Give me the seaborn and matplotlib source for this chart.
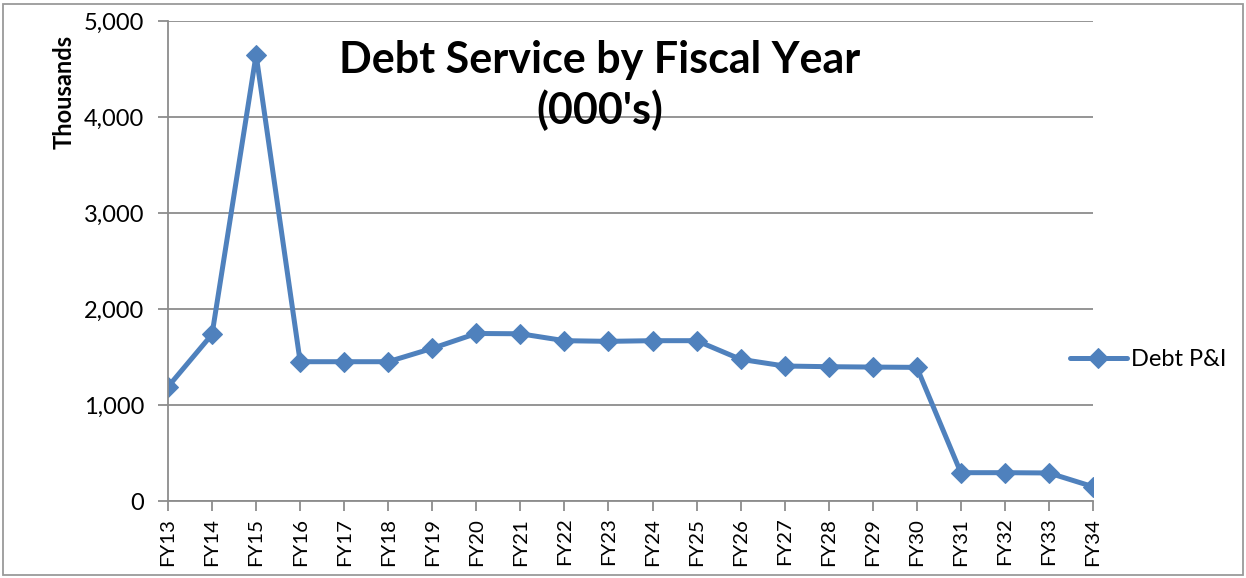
import matplotlib
matplotlib.use("Agg")
import matplotlib.pyplot as plt
import seaborn as sns
import pandas as pd
from matplotlib.patches import Rectangle
from matplotlib.ticker import FuncFormatter, MultipleLocator

years = ["FY13", "FY14", "FY15", "FY16", "FY17", "FY18", "FY19", "FY20", "FY21", "FY22", "FY23",
         "FY24", "FY25", "FY26", "FY27", "FY28", "FY29", "FY30", "FY31", "FY32", "FY33", "FY34"]
debt_pi = [1190, 1736, 4648, 1451, 1451, 1451, 1590, 1745, 1742, 1670, 1663,
           1670, 1670, 1476, 1406, 1399, 1395, 1392, 295, 295, 292, 149]

df = pd.DataFrame({"year": years, "Debt P&I": debt_pi})

sns.set_theme(style="white")
plt.rcParams["font.family"] = ["Lato", "DejaVu Sans"]
plt.rcParams["text.color"] = "black"

blue = "#4F81BD"
grid = "#8C8C8C"

fig = plt.figure(figsize=(12.46, 5.78), dpi=100)
ax = fig.add_axes([168/1246, 1-501/578, (1093-168)/1246, (501-21)/578])

sns.lineplot(data=df, x="year", y="Debt P&I", ax=ax, color=blue, linewidth=3.6,
             marker="D", markersize=10, markeredgecolor=blue, label="Debt P&I",
             sort=False)

ax.set_xlim(0, len(years) - 1)
ax.set_ylim(0, 5000)
ax.yaxis.set_major_locator(MultipleLocator(1000))
ax.yaxis.set_major_formatter(FuncFormatter(lambda v, p: f"{int(v):,}"))
ax.grid(axis="y", color=grid, linewidth=1.3)
ax.set_axisbelow(True)

for s in ["top", "right"]:
    ax.spines[s].set_visible(False)
for s in ["left", "bottom"]:
    ax.spines[s].set_color(grid)
    ax.spines[s].set_linewidth(1.3)

ax.tick_params(axis="y", which="major", left=True, length=7, width=1.3, color=grid,
               labelsize=17, pad=10, labelcolor="black")
ax.tick_params(axis="x", which="major", bottom=True, length=7, width=1.3, color=grid,
               labelsize=14.7, pad=5, labelcolor="black")
plt.setp(ax.get_xticklabels(), rotation=90)

ax.set_xlabel("")
ax.set_ylabel("Thousands", fontsize=17, fontweight="bold", color="black")
ax.yaxis.set_label_coords(-0.1, 0.853)

ax.text(0.467, 0.866, "Debt Service by Fiscal Year\n(000's)", transform=ax.transAxes,
        ha="center", va="center", fontsize=31, fontweight="bold", linespacing=1.27,
        color="black")

leg = ax.legend(loc="center left", frameon=False,
                fontsize=17, handlelength=2.4, handletextpad=0.17, borderpad=0,
                borderaxespad=0)
leg.set_bbox_to_anchor((1070/1246, 1-360/578), transform=fig.transFigure)
for t in leg.get_texts():
    t.set_color("black")

fig.patches.append(Rectangle((3/1246, 3/578), 1240/1246, 571/578, transform=fig.transFigure,
                             fill=False, edgecolor="#9A9A9A", linewidth=1.3))

fig.savefig("out.png", dpi=100)
